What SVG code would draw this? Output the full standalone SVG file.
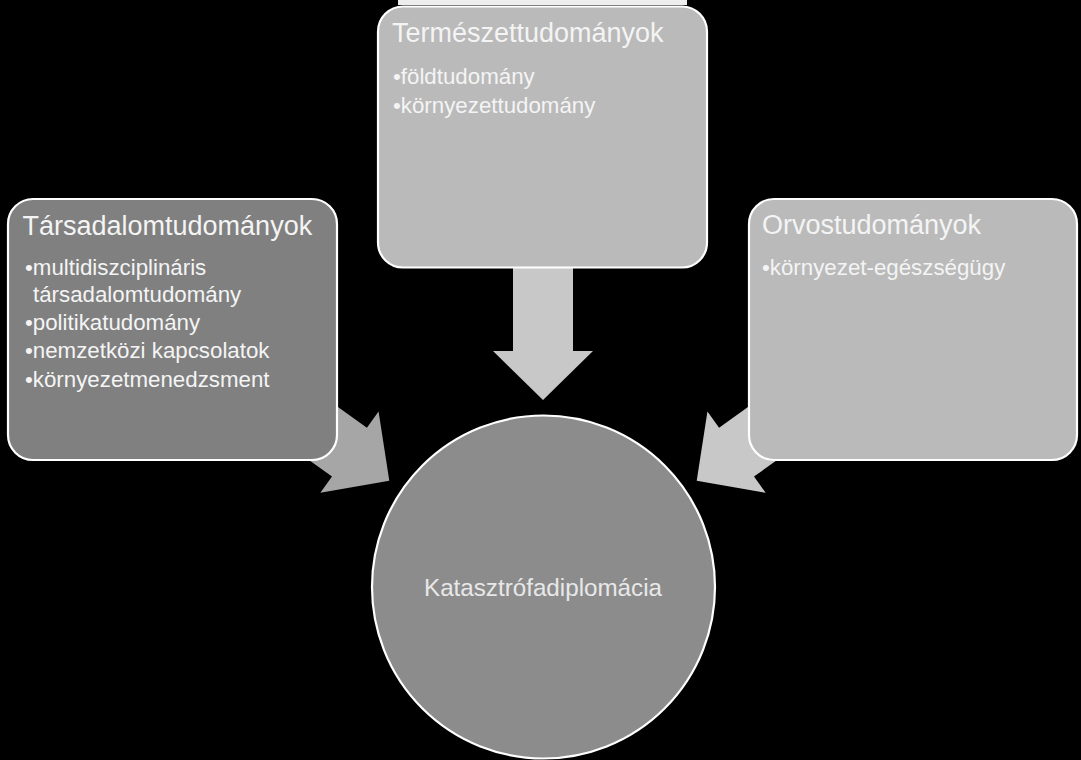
<svg xmlns="http://www.w3.org/2000/svg" width="1081" height="760" viewBox="0 0 1081 760">
  <style>
    .box { stroke: #FFFFFF; stroke-width: 2.2; }
    .title { font-family: "Liberation Sans", Arial, sans-serif; font-size: 27px; fill: #F4F4F4; }
    .item { font-family: "Liberation Sans", Arial, sans-serif; font-size: 22.3px; fill: #F4F4F4; }
    .center { font-family: "Liberation Sans", Arial, sans-serif; font-size: 24.2px; fill: #E8E8E8; text-anchor: middle; }
  </style>
  <defs>
    <polygon id="arrowShape" points="0,0 -49,-50 -49,-30 -170,-30 -170,30 -49,30 -49,50"/>
  </defs>
  <rect x="0" y="0" width="1081" height="760" fill="#000000"/>
  <rect x="398" y="0" width="289" height="5" fill="#EDEDED"/>

  <g id="connectors">
    <use href="#arrowShape" transform="translate(389.3,480.7) rotate(35.6)" fill="#A6A6A6"/>
    <use href="#arrowShape" transform="translate(696.7,480.7) rotate(144.4)" fill="#C8C8C8"/>
    <use href="#arrowShape" transform="translate(543,400) rotate(90)" fill="#C8C8C8"/>
  </g>

  <g id="node-termeszet">
    <rect class="box" x="378" y="6.5" width="329" height="261" rx="25" fill="#BABABA"/>
    <text class="title" x="392" y="42">Természettudományok</text>
    <text class="item" x="393" y="84">•földtudomány</text>
    <text class="item" x="393" y="113">•környezettudomány</text>
  </g>

  <g id="node-tarsadalom">
    <rect class="box" x="8" y="199" width="329" height="261" rx="25" fill="#808080"/>
    <text class="title" x="22.5" y="235">Társadalomtudományok</text>
    <text class="item" x="25" y="275">•multidiszciplináris</text>
    <text class="item" x="33" y="302">társadalomtudomány</text>
    <text class="item" x="25" y="330">•politikatudomány</text>
    <text class="item" x="25" y="358">•nemzetközi kapcsolatok</text>
    <text class="item" x="25" y="387">•környezetmenedzsment</text>
  </g>

  <g id="node-orvos">
    <rect class="box" x="749" y="199" width="328" height="261" rx="25" fill="#BABABA"/>
    <text class="title" x="762" y="234">Orvostudományok</text>
    <text class="item" x="762" y="275">•környezet-egészségügy</text>
  </g>

  <g id="node-center">
    <circle cx="543.5" cy="587" r="171.5" fill="#8C8C8C" stroke="#FFFFFF" stroke-width="2.2"/>
    <text class="center" x="543" y="596">Katasztrófadiplomácia</text>
  </g>
</svg>
